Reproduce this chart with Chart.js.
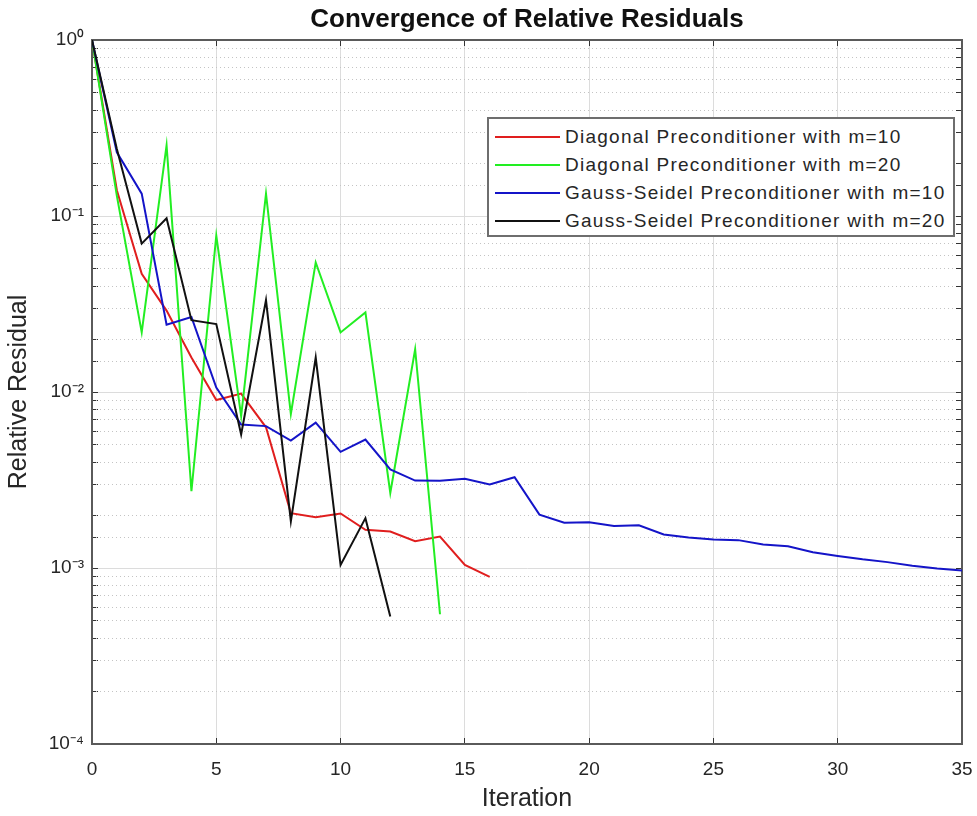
<!DOCTYPE html>
<html>
<head>
<meta charset="utf-8">
<script src="https://cdn.jsdelivr.net/npm/chart.js@4.4.1/dist/chart.umd.min.js"></script>
<style>
html,body{margin:0;padding:0;background:#fff;}
#wrap{position:relative;width:977px;height:816px;}
#legend{position:absolute;left:487px;top:117px;width:464px;height:116px;border:2px solid #6e6e6e;background:#fff;font-family:"Liberation Sans",Arial,sans-serif;font-size:19px;letter-spacing:1.25px;color:#262626;}
.row{position:absolute;left:0;height:28px;line-height:28px;white-space:nowrap;}
.sw{position:absolute;left:6px;top:13px;width:65px;height:2px;}
.tx{position:absolute;left:76px;top:0;}
</style>
</head>
<body>
<div id="wrap">
<canvas id="c" width="977" height="816"></canvas>
<div id="legend"></div>
</div>
<script>
// ---- data ----
const chartTitle = "Convergence of Relative Residuals";
const xTitle = "Iteration";
const yTitle = "Relative Residual";
const xTicks = [0, 5, 10, 15, 20, 25, 30, 35];
const yDecades = [1e-4, 1e-3, 1e-2, 1e-1, 1];

const seriesNames = [
  "Diagonal Preconditioner with m=10",
  "Diagonal Preconditioner with m=20",
  "Gauss-Seidel Preconditioner with m=10",
  "Gauss-Seidel Preconditioner with m=20"
];
const seriesColors = ["#e01e1e", "#22ee22", "#1414c8", "#111111"];

const diagM10 = [1, 0.14, 0.047, 0.029, 0.0157, 0.0090, 0.0098, 0.0063, 0.00205, 0.00194, 0.00204,
  0.00165, 0.00161, 0.00142, 0.00151, 0.00104, 0.00089];
const diagM20 = [1, 0.13, 0.0218, 0.252, 0.00273, 0.0774, 0.0073, 0.134, 0.0075, 0.0545, 0.0218,
  0.0283, 0.00267, 0.0175, 0.000546];
const gsM10 = [1, 0.23, 0.134, 0.0241, 0.0267, 0.0106, 0.00654, 0.0064, 0.0053, 0.0067, 0.00457,
  0.00537, 0.00363, 0.00314, 0.00313, 0.00321, 0.00298, 0.00328, 0.00201, 0.00181, 0.00182,
  0.00173, 0.00175, 0.00155, 0.00149, 0.00145, 0.00144, 0.00136, 0.00133, 0.00123, 0.00117,
  0.00112, 0.00108, 0.00103, 0.000993, 0.000968];
const gsM20 = [1, 0.24, 0.0697, 0.097, 0.0256, 0.0243, 0.00574, 0.0333, 0.00184, 0.0157, 0.00104,
  0.00192, 0.00053];

const allSeries = [diagM10, diagM20, gsM10, gsM20];

// ---- helpers ----
const FONT = '"Liberation Sans", Arial, Helvetica, sans-serif';
Chart.defaults.font.family = FONT;
const SUP = {'0':'\u2070','1':'\u00B9','2':'\u00B2','3':'\u00B3','4':'\u2074','5':'\u2075','6':'\u2076','7':'\u2077','8':'\u2078','9':'\u2079','-':'\u207B'};
function isDecade(v){
  if (!(v > 0)) return false;
  const l = Math.log10(v);
  return Math.abs(l - Math.round(l)) < 1e-6 && yDecades.some(d => Math.abs(Math.log10(d) - l) < 1e-6);
}
function decadeLabel(v){
  const e = String(Math.round(Math.log10(v)));
  return '10' + e.split('').map(c => SUP[c]).join('');
}

const datasets = allSeries.map((arr, k) => ({
  label: seriesNames[k],
  data: arr.map((v, i) => ({x: i, y: v})),
  borderColor: seriesColors[k],
  backgroundColor: seriesColors[k],
  borderWidth: 2,
  pointRadius: 0,
  tension: 0,
  fill: false,
  order: allSeries.length - 1 - k,
  xAxisID: 'x',
  yAxisID: 'y'
}));

// legend (HTML text)
const leg = document.getElementById('legend');
seriesNames.forEach((name, k) => {
  const row = document.createElement('div');
  row.className = 'row';
  row.style.top = (3.7 + 28 * k) + 'px';
  row.innerHTML = '<div class="sw" style="background:' + seriesColors[k] + '"></div><div class="tx"></div>';
  row.querySelector('.tx').textContent = name;
  leg.appendChild(row);
});

const tickColor = '#262626';
const axisColor = '#5a5a5a';
const TL = 6;

new Chart(document.getElementById('c'), {
  type: 'line',
  data: { datasets },
  options: {
    responsive: false,
    animation: false,
    layout: { padding: { left: 0, right: 15, top: 0, bottom: 0 } },
    plugins: {
      legend: { display: false },
      tooltip: { enabled: false },
      title: {
        display: true,
        fullSize: false,
        text: chartTitle,
        color: '#111',
        font: { size: 26, weight: 'bold', family: FONT },
        padding: { top: 4, bottom: 4.8 }
      }
    },
    scales: {
      x: {
        type: 'linear',
        position: 'bottom',
        min: xTicks[0],
        max: xTicks[xTicks.length - 1],
        afterBuildTicks: s => { s.ticks = xTicks.map(v => ({value: v})); },
        ticks: { color: tickColor, font: { size: 19 }, padding: 14 + TL, maxRotation: 0, autoSkip: false },
        grid: { color: '#dcdcdc', lineWidth: 1, drawTicks: true, tickLength: -TL, tickColor: '#333', tickWidth: 1 },
        border: { color: axisColor, width: 2 },
        title: { display: true, text: xTitle, color: tickColor, font: { size: 25 }, padding: { top: 0, bottom: 2 } },
        afterFit: s => { s.height = 72; s.paddingLeft = 0; s.paddingRight = 0; }
      },
      xTop: {
        type: 'linear',
        position: 'top',
        min: xTicks[0],
        max: xTicks[xTicks.length - 1],
        afterBuildTicks: s => { s.ticks = xTicks.map(v => ({value: v})); },
        ticks: { display: false },
        grid: { drawOnChartArea: false, drawTicks: true, tickLength: -TL, tickColor: '#333', tickWidth: 1 },
        border: { color: axisColor, width: 2 },
        afterFit: s => { s.height = 0; s.paddingLeft = 0; s.paddingRight = 0; }
      },
      y: {
        type: 'logarithmic',
        position: 'left',
        min: yDecades[0],
        max: yDecades[yDecades.length - 1],
        ticks: {
          color: tickColor, font: { size: 19 }, padding: 8 + TL, autoSkip: false,
          callback: v => isDecade(v) ? decadeLabel(v) : ''
        },
        grid: {
          color: c => (c.tick && isDecade(c.tick.value)) ? '#dcdcdc' : 'rgba(0,0,0,0)',
          lineWidth: 1, drawTicks: true, tickLength: -TL, tickColor: '#333', tickWidth: 1
        },
        border: { color: axisColor, width: 2 },
        title: { display: true, text: yTitle, color: tickColor, font: { size: 25 }, padding: { top: 4, bottom: 0 } },
        afterFit: s => { s.width = 92; }
      },
      yMinor: {
        type: 'logarithmic',
        position: 'left',
        min: yDecades[0],
        max: yDecades[yDecades.length - 1],
        ticks: { display: false, autoSkip: false },
        grid: {
          color: c => (c.tick && !isDecade(c.tick.value)) ? '#c4c4c4' : 'rgba(0,0,0,0)',
          lineWidth: 1, drawTicks: false
        },
        border: { display: false, dash: [1, 3] },
        afterFit: s => { s.width = 0; }
      },
      yRight: {
        type: 'logarithmic',
        position: 'right',
        min: yDecades[0],
        max: yDecades[yDecades.length - 1],
        ticks: { display: false, autoSkip: false },
        grid: { drawOnChartArea: false, drawTicks: true, tickLength: -TL, tickColor: '#333', tickWidth: 1 },
        border: { color: axisColor, width: 2 },
        afterFit: s => { s.width = 0; }
      }
    }
  }
});
</script>
</body>
</html>
